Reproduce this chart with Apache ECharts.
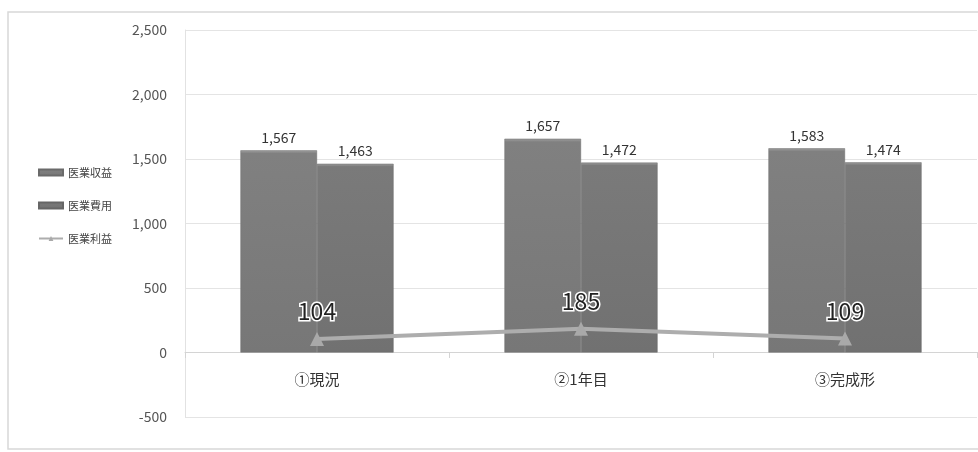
<!DOCTYPE html>
<html>
<head>
<meta charset="utf-8">
<script src="https://cdn.jsdelivr.net/npm/echarts@6/dist/echarts.min.js"></script>
<style>
html,body{margin:0;padding:0;background:#fff;}
#chart{width:978px;height:452px;}
</style>
</head>
<body>
<div id="chart"></div>
<script>
// Categories and series values
const categories = ['①現況', '②1年目', '③完成形'];
const revenue = [1567, 1657, 1583];   // 医業収益
const expense = [1463, 1472, 1474];   // 医業費用
const profit = [104, 185, 109];       // 医業利益
const seriesNames = ['医業収益', '医業費用', '医業利益'];

const font = '"Noto Sans CJK JP", "Open Sans", sans-serif';

function barFill(top, bottom) {
  return new echarts.graphic.LinearGradient(0, 0, 0, 1, [
    { offset: 0, color: '#a0a0a0' },
    { offset: 0.015, color: top },
    { offset: 1, color: bottom }
  ]);
}

const chart = echarts.init(document.getElementById('chart'));
chart.setOption({
  backgroundColor: '#fff',
  animation: false,
  textStyle: { fontFamily: font },
  graphic: [{
    type: 'rect',
    shape: { x: 8, y: 12, width: 975, height: 437 },
    style: { fill: 'none', stroke: '#d8d8d8', lineWidth: 1.5 },
    silent: true
  }],
  legend: {
    orient: 'vertical',
    left: 33,
    top: 162,
    itemGap: 22,
    itemWidth: 24,
    itemHeight: 6,
    textStyle: { fontSize: 11, color: '#444', fontFamily: font },
    data: [
      { name: seriesNames[0], icon: 'rect' },
      { name: seriesNames[1], icon: 'rect' },
      { name: seriesNames[2] }
    ]
  },
  grid: { left: 185, right: 1, top: 30, bottom: 35 },
  xAxis: {
    type: 'category',
    data: categories,
    offset: -65,
    axisLine: { show: true, onZero: false, lineStyle: { color: '#d4d4d4' } },
    axisTick: { show: true, length: 6, lineStyle: { color: '#d4d4d4' } },
    axisLabel: { fontSize: 15, color: '#333', margin: 20 }
  },
  yAxis: {
    type: 'value',
    min: -500,
    max: 2500,
    interval: 500,
    axisLine: { show: true, lineStyle: { color: '#e2e2e2' } },
    axisTick: { show: false },
    splitLine: { lineStyle: { color: '#e4e4e4' } },
    axisLabel: {
      fontSize: 14,
      color: '#555',
      margin: 18,
      formatter: v => v.toLocaleString('en-US')
    }
  },
  series: [
    {
      name: seriesNames[0],
      type: 'bar',
      data: revenue,
      barGap: '0%',
      barCategoryGap: '42%',
      itemStyle: { color: barFill('#808080', '#777777'), borderColor: '#6a6a6a', borderWidth: 0.5 },
      label: {
        show: true, position: 'top', distance: 6, fontSize: 14, color: '#333',
        formatter: p => p.value.toLocaleString('en-US')
      }
    },
    {
      name: seriesNames[1],
      type: 'bar',
      data: expense,
      itemStyle: { color: barFill('#7a7a7a', '#717171'), borderColor: '#666', borderWidth: 0.5 },
      label: {
        show: true, position: 'top', distance: 6, fontSize: 14, color: '#333',
        formatter: p => p.value.toLocaleString('en-US')
      }
    },
    {
      name: seriesNames[2],
      type: 'line',
      data: profit,
      symbol: 'triangle',
      symbolSize: 14,
      lineStyle: { color: '#adadad', width: 4 },
      itemStyle: { color: '#a9a9a9' },
      label: {
        show: true, position: 'top', distance: 9, fontSize: 23, color: '#222',
        textBorderColor: '#fff', textBorderWidth: 3
      },
      z: 5
    }
  ]
});
</script>
</body>
</html>
